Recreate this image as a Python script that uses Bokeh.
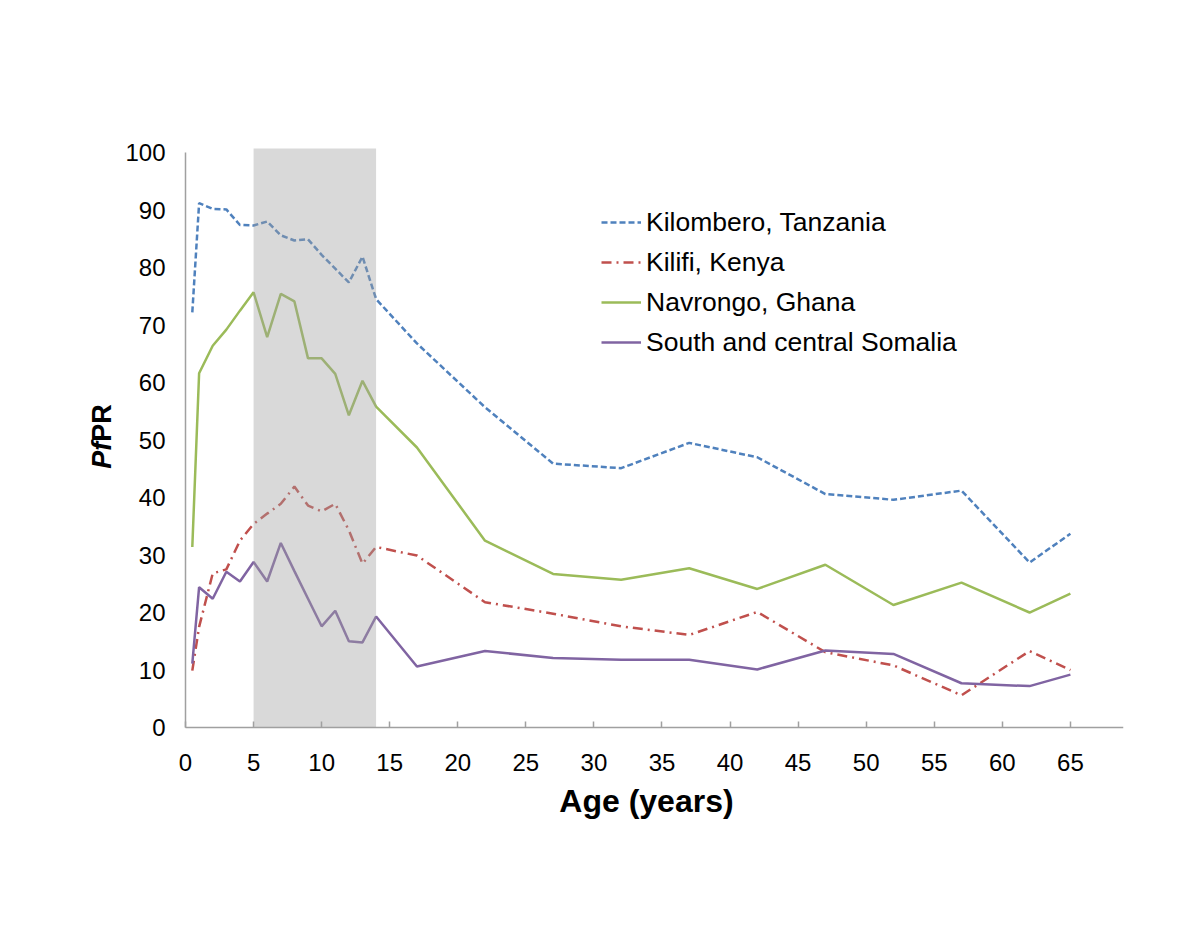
import math
from bokeh.plotting import figure
from bokeh.models import Range1d, Legend, LegendItem, Label, FixedTicker
from bokeh.embed import file_html
from bokeh.resources import INLINE

# ---- data ----
ages = [0.5, 1, 2, 3, 4, 5, 6, 7, 8, 9, 10, 11, 12, 13, 14, 17, 22, 27, 32, 37, 42, 47, 52, 57, 62, 65]
kilombero = [72.2, 91.2, 90.2, 90.1, 87.4, 87.3, 88.0, 85.6, 84.7, 84.9, 82.2, 79.8, 77.4, 81.9, 74.5,
             66.8, 55.7, 45.9, 45.1, 49.5, 47.0, 40.6, 39.6, 41.2, 28.7, 33.7]
kilifi = [9.9, 17.5, 26.8, 27.5, 32.5, 35.4, 37.2, 38.9, 41.9, 38.6, 37.6, 38.9, 34.3, 28.5, 31.4,
          29.9, 21.8, 19.8, 17.6, 16.1, 20.1, 13.1, 10.8, 5.6, 13.3, 10.0]
navrongo = [31.4, 61.6, 66.4, 69.2, 72.5, 75.7, 67.9, 75.4, 74.1, 64.2, 64.2, 61.5, 54.3, 60.3, 55.8,
            48.7, 32.5, 26.7, 25.7, 27.7, 24.1, 28.3, 21.3, 25.2, 20.0, 23.3]
somalia = [11.1, 24.4, 22.4, 27.1, 25.4, 28.8, 25.4, 32.1, 27.2, 22.4, 17.6, 20.3, 15.0, 14.8, 19.3,
           10.6, 13.3, 12.1, 11.8, 11.8, 10.1, 13.4, 12.8, 7.7, 7.2, 9.2]
series_names = ["Kilombero, Tanzania", "Kilifi, Kenya", "Navrongo, Ghana", "South and central Somalia"]
shade_start, shade_end = 5, 14
x_ticks = list(range(0, 70, 5))
y_ticks = list(range(0, 110, 10))

FONT = "Liberation Sans"
X_MAX = 68.9
Y_MAX = 100.7

# The frame is extended beyond the axes so that the titles (the y title mixes
# italic and upright text) can be drawn inside it; both axes are pinned at 0.
p = figure(width=1184, height=911, output_backend="svg", toolbar_location=None,
           x_range=Range1d(-6.978, X_MAX), y_range=Range1d(-19.65, 103.83),
           min_border_left=90, min_border_right=61, min_border_top=130, min_border_bottom=71)
p.outline_line_color = None
p.xgrid.visible = False
p.ygrid.visible = False
p.background_fill_color = "white"

styles = [
    dict(color="#4F81BD", dash="6 3"),
    dict(color="#C0504D", dash="10 5 2 5"),
    dict(color="#9BBB59", dash="solid"),
    dict(color="#8064A2", dash="solid"),
]
renderers = []
for ys, st in zip([kilombero, kilifi, navrongo, somalia], styles):
    r = p.line(ages, ys, line_color=st["color"], line_width=2.5, line_dash=st["dash"])
    renderers.append(r)

# shaded age band (drawn over the lines, semi-transparent)
p.quad(left=[shade_start], right=[shade_end], bottom=[0], top=[Y_MAX],
       fill_color="#a0a0a0", fill_alpha=0.4, line_color=None)

# axes
p.xaxis.ticker = FixedTicker(ticks=x_ticks)
p.yaxis.ticker = FixedTicker(ticks=y_ticks)
p.xaxis.bounds = (0, X_MAX)
p.yaxis.bounds = (0, 100)
p.xaxis.fixed_location = 0
p.yaxis.fixed_location = 0
for ax in (p.xaxis[0], p.yaxis[0]):
    ax.axis_line_color = "#a0a0a0"
    ax.axis_line_width = 1.5
    ax.minor_tick_line_color = None
    ax.major_label_text_font = FONT
    ax.major_label_text_font_size = "24px"
    ax.major_label_text_color = "#000000"
p.xaxis.major_tick_in = 6
p.xaxis.major_tick_out = 0
p.xaxis.major_tick_line_color = "#a0a0a0"
p.xaxis.major_tick_line_width = 1.5
p.xaxis.major_label_standoff = 26
p.yaxis.major_tick_in = 0
p.yaxis.major_tick_out = 0
p.yaxis.major_tick_line_color = None
p.yaxis.major_label_standoff = 20

# x axis title
p.add_layout(Label(x=33.86, y=-12.7, text="Age (years)", text_align="center",
                   text_baseline="middle", text_font=FONT, text_font_size="32px",
                   text_font_style="bold", text_color="#000000"))

# y axis title "PfPR" with italic "Pf"
p.add_layout(Label(x=-6.17, y=49.7, text="Pf", angle=math.pi / 2,
                   text_align="right", text_baseline="middle", text_font=FONT, text_font_size="27px",
                   text_font_style="bold italic", text_color="#000000"))
p.add_layout(Label(x=-6.17, y=49.7, text="PR", angle=math.pi / 2,
                   text_align="left", text_baseline="middle", text_font=FONT, text_font_size="27px",
                   text_font_style="bold", text_color="#000000"))

legend = Legend(items=[LegendItem(label=n, renderers=[r]) for n, r in zip(series_names, renderers)],
                location=(511, 478))
legend.background_fill_alpha = 0
legend.border_line_alpha = 0
legend.padding = 0
legend.margin = 0
legend.spacing = 0
legend.glyph_width = 40
legend.glyph_height = 40
legend.label_height = 40
legend.label_standoff = 5
legend.label_text_font = FONT
legend.label_text_font_size = "26.5px"
legend.label_text_color = "#000000"
p.add_layout(legend, "center")

open("out.html", "w").write(file_html(p, INLINE))
